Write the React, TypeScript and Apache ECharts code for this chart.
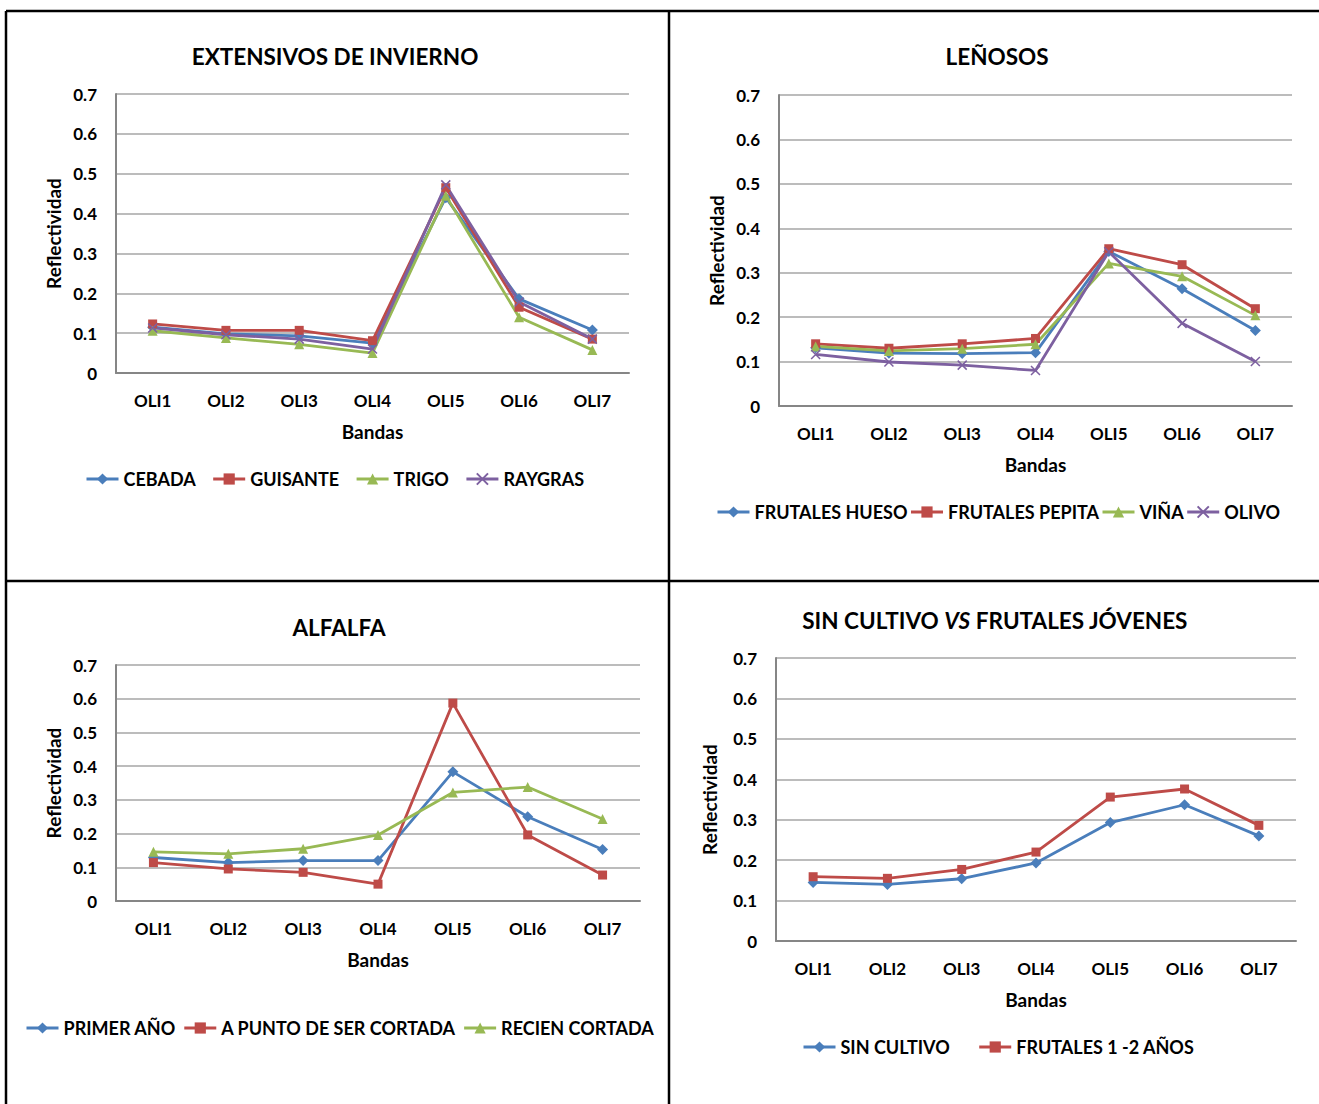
import React, { useEffect, useRef } from "react";
import * as echarts from "echarts";

const categories = ["OLI1", "OLI2", "OLI3", "OLI4", "OLI5", "OLI6", "OLI7"];
const yTicks = [0, 0.1, 0.2, 0.3, 0.4, 0.5, 0.6, 0.7];

// EXTENSIVOS DE INVIERNO
const cebada = [0.115, 0.098, 0.093, 0.075, 0.44, 0.186, 0.108];
const guisante = [0.123, 0.107, 0.107, 0.081, 0.465, 0.165, 0.085];
const trigo = [0.106, 0.088, 0.072, 0.05, 0.445, 0.14, 0.058];
const raygras = [0.113, 0.096, 0.085, 0.06, 0.472, 0.178, 0.085];

// LEÑOSOS
const frutalesHueso = [0.131, 0.119, 0.118, 0.12, 0.348, 0.264, 0.17];
const frutalesPepita = [0.14, 0.13, 0.14, 0.152, 0.354, 0.318, 0.219];
const vina = [0.134, 0.124, 0.129, 0.139, 0.321, 0.292, 0.204];
const olivo = [0.116, 0.099, 0.092, 0.08, 0.347, 0.186, 0.1];

// ALFALFA
const primerAno = [0.129, 0.114, 0.12, 0.12, 0.383, 0.25, 0.153];
const aPunto = [0.114, 0.095, 0.085, 0.05, 0.587, 0.196, 0.077];
const recienCortada = [0.146, 0.14, 0.155, 0.196, 0.322, 0.338, 0.243];

// SIN CULTIVO VS FRUTALES JÓVENES
const sinCultivo = [0.145, 0.14, 0.154, 0.193, 0.293, 0.337, 0.26];
const frutales12 = [0.159, 0.155, 0.177, 0.22, 0.356, 0.376, 0.286];

const BLUE = "#4A7EBB";
const RED = "#BE4B48";
const GREEN = "#98B954";
const PURPLE = "#7D60A0";
const FONT = "Lato";
const X_SYMBOL = "path://M0,0L10,10M10,0L0,10";

const markers: Record<string, { symbol: string; size: number }> = {
  [BLUE]: { symbol: "diamond", size: 11 },
  [RED]: { symbol: "rect", size: 9 },
  [GREEN]: { symbol: "triangle", size: 10 },
  [PURPLE]: { symbol: X_SYMBOL, size: 9 },
};

const panels = [
  {
    title: [{ text: "EXTENSIVOS DE INVIERNO" }],
    grid: { left: 116, top: 94, width: 513, height: 279 },
    yName: { x: 53 },
    legend: { left: 80, top: 465, itemGap: 16 },
    series: [
      { name: "CEBADA", data: cebada, color: BLUE },
      { name: "GUISANTE", data: guisante, color: RED },
      { name: "TRIGO", data: trigo, color: GREEN },
      { name: "RAYGRAS", data: raygras, color: PURPLE },
    ],
  },
  {
    title: [{ text: "LEÑOSOS" }],
    grid: { left: 779, top: 95, width: 513, height: 311 },
    yName: { x: 716 },
    legend: { left: 711, top: 498, itemGap: 2 },
    series: [
      { name: "FRUTALES HUESO", data: frutalesHueso, color: BLUE },
      { name: "FRUTALES PEPITA", data: frutalesPepita, color: RED },
      { name: "VIÑA", data: vina, color: GREEN },
      { name: "OLIVO", data: olivo, color: PURPLE },
    ],
  },
  {
    title: [{ text: "ALFALFA" }],
    grid: { left: 116, top: 665, width: 524, height: 236 },
    yName: { x: 53 },
    legend: { left: 20, top: 1014, itemGap: 7 },
    series: [
      { name: "PRIMER AÑO", data: primerAno, color: BLUE },
      { name: "A PUNTO DE SER CORTADA", data: aPunto, color: RED },
      { name: "RECIEN CORTADA", data: recienCortada, color: GREEN },
    ],
  },
  {
    title: [{ text: "SIN CULTIVO " }, { text: "VS", italic: true }, { text: " FRUTALES JÓVENES" }],
    grid: { left: 776, top: 658, width: 520, height: 283 },
    yName: { x: 709 },
    legend: { left: 797, top: 1033, itemGap: 28 },
    series: [
      { name: "SIN CULTIVO", data: sinCultivo, color: BLUE },
      { name: "FRUTALES 1 -2 AÑOS", data: frutales12, color: RED },
    ],
  },
];

const titleY = [56, 56, 627, 620];
const titleX = [335, 997, 339, 995];

export default function App() {
  const ref = useRef<HTMLDivElement>(null);

  useEffect(() => {
    if (!ref.current) return;
    const chart = echarts.init(ref.current, null, { renderer: "svg" });

    const grids: any[] = [];
    const xAxes: any[] = [];
    const yAxes: any[] = [];
    const legends: any[] = [];
    const series: any[] = [];
    const graphics: any[] = [];

    panels.forEach((p, i) => {
      grids.push({ ...p.grid, containLabel: false });
      xAxes.push({
        type: "category",
        gridIndex: i,
        data: categories,
        boundaryGap: true,
        axisLine: { show: true, lineStyle: { color: "#868686", width: 2 } },
        axisTick: { show: false },
        axisLabel: {
          margin: 19,
          color: "#000",
          fontFamily: FONT,
          fontWeight: "bold",
          fontSize: 17,
        },
        splitLine: { show: false },
      });
      yAxes.push({
        type: "value",
        gridIndex: i,
        min: 0,
        max: 0.7,
        interval: 0.1,
        axisLine: { show: true, lineStyle: { color: "#868686", width: 2 } },
        axisTick: { show: false },
        axisLabel: {
          margin: 19,
          color: "#000",
          fontFamily: FONT,
          fontWeight: "bold",
          fontSize: 17,
          formatter: (v: number) => {
            const t = yTicks.find((k) => Math.abs(k - v) < 1e-6);
            return t === 0 ? "0" : (t ?? v).toFixed(1);
          },
        },
        splitLine: { show: true, lineStyle: { color: "#A6A6A6", width: 1.5 } },
      });
      legends.push({
        left: p.legend.left,
        top: p.legend.top,
        orient: "horizontal",
        itemGap: p.legend.itemGap,
        itemWidth: 32,
        itemHeight: 14,
        data: p.series.map((s) => s.name),
        lineStyle: { width: 3 },
        textStyle: {
          color: "#000",
          fontFamily: FONT,
          fontWeight: "bold",
          fontSize: 18,
        },
      });
      p.series.forEach((s) => {
        const m = markers[s.color];
        series.push({
          type: "line",
          name: s.name,
          xAxisIndex: i,
          yAxisIndex: i,
          data: s.data,
          symbol: m.symbol,
          symbolSize: m.size,
          showAllSymbol: true,
          lineStyle: { color: s.color, width: 2.8 },
          itemStyle: { color: s.color, borderColor: s.color, borderWidth: s.color === PURPLE ? 1.5 : 0 },
          emphasis: { disabled: true },
        });
      });

      const g = p.grid;
      const cx = g.left + g.width / 2;
      const rich: any = {
        n: { fontFamily: FONT, fontWeight: "bold", fontSize: 22.5, fill: "#000" },
        it: { fontFamily: FONT, fontWeight: "bold", fontStyle: "italic", fontSize: 22.5, fill: "#000" },
      };
      const titleText = p.title
        .map((t) => `{${(t as any).italic ? "it" : "n"}|${t.text}}`)
        .join("");
      graphics.push({
        type: "text",
        x: titleX[i],
        y: titleY[i],
        style: {
          text: titleText,
          rich,
          align: "center",
          verticalAlign: "middle",
        },
      });
      graphics.push({
        type: "text",
        x: p.yName.x,
        y: g.top + g.height / 2,
        rotation: Math.PI / 2,
        style: {
          text: "Reflectividad",
          fontFamily: FONT,
          fontWeight: "bold",
          fontSize: 19,
          fill: "#000",
          align: "center",
          verticalAlign: "middle",
        },
      });
      graphics.push({
        type: "text",
        x: cx,
        y: g.top + g.height + 58,
        style: {
          text: "Bandas",
          fontFamily: FONT,
          fontWeight: "bold",
          fontSize: 19,
          fill: "#000",
          align: "center",
          verticalAlign: "middle",
        },
      });
    });

    const frame = { stroke: "#000", lineWidth: 2.5 };
    graphics.push(
      { type: "line", shape: { x1: 6, y1: 11, x2: 1319, y2: 11 }, style: frame },
      { type: "line", shape: { x1: 6, y1: 11, x2: 6, y2: 1104 }, style: frame },
      { type: "line", shape: { x1: 669, y1: 11, x2: 669, y2: 1104 }, style: frame },
      { type: "line", shape: { x1: 6, y1: 581, x2: 1319, y2: 581 }, style: frame }
    );

    chart.setOption({
      animation: false,
      backgroundColor: "#fff",
      grid: grids,
      xAxis: xAxes,
      yAxis: yAxes,
      legend: legends,
      series,
      graphic: graphics,
    });

    return () => chart.dispose();
  }, []);

  return (
    <div
      ref={ref}
      style={{ position: "absolute", left: 0, top: 0, width: 1319, height: 1104, background: "#fff" }}
    />
  );
}
